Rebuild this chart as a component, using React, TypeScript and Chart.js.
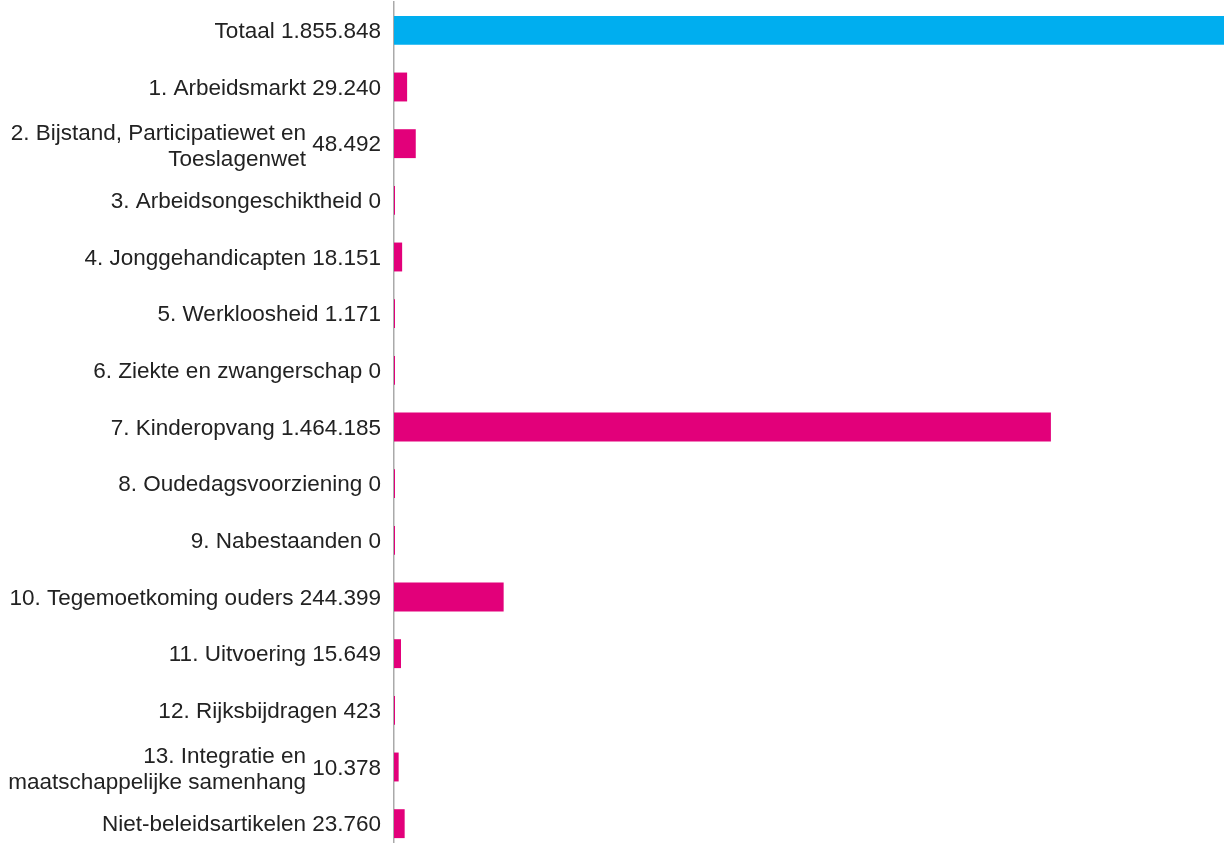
import React, { useEffect, useRef } from "react";
import { Chart, registerables } from "chart.js";

Chart.register(...registerables);

// Category names (multi-line names are split into lines)
const categories: string[][] = [
  ["Totaal"],
  ["1. Arbeidsmarkt"],
  ["2. Bijstand, Participatiewet en", "Toeslagenwet"],
  ["3. Arbeidsongeschiktheid"],
  ["4. Jonggehandicapten"],
  ["5. Werkloosheid"],
  ["6. Ziekte en zwangerschap"],
  ["7. Kinderopvang"],
  ["8. Oudedagsvoorziening"],
  ["9. Nabestaanden"],
  ["10. Tegemoetkoming ouders"],
  ["11. Uitvoering"],
  ["12. Rijksbijdragen"],
  ["13. Integratie en", "maatschappelijke samenhang"],
  ["Niet-beleidsartikelen"],
];

const values: number[] = [
  1855848, 29240, 48492, 0, 18151, 1171, 0, 1464185, 0, 0, 244399, 15649, 423,
  10378, 23760,
];

const TOTAL_COLOR = "#00AEEF";
const ARTICLE_COLOR = "#E2007A";
const TEXT_COLOR = "#222222";
const FONT_SIZE = 22.5;
const LINE_HEIGHT = 26;
const FONT_FAMILY = '"Liberation Sans", Arial, sans-serif';

function formatNL(v: number): string {
  return String(v).replace(/\B(?=(\d{3})+(?!\d))/g, ".");
}

const labelPlugin = {
  id: "twoColumnLabels",
  afterDraw(chart: any) {
    const ctx = chart.ctx as CanvasRenderingContext2D;
    const yScale = chart.scales.y;
    ctx.save();
    ctx.font = `${FONT_SIZE}px ${FONT_FAMILY}`;
    ctx.fillStyle = TEXT_COLOR;
    ctx.textAlign = "right";
    ctx.textBaseline = "middle";
    const xr = yScale.right - 13;
    categories.forEach((lines, i) => {
      const cy = yScale.getPixelForTick(i) + 1.5;
      const val = formatNL(values[i]);
      if (lines.length === 1) {
        ctx.fillText(lines[0] + " " + val, xr, cy);
      } else {
        ctx.fillText(val, xr, cy);
        const nx = xr - ctx.measureText(" " + val).width;
        const n = lines.length;
        lines.forEach((line, k) => {
          ctx.fillText(line, nx, cy + (k - (n - 1) / 2) * LINE_HEIGHT + 1.5);
        });
      }
    });
    ctx.restore();
  },
};

export default function App() {
  const canvasRef = useRef<HTMLCanvasElement | null>(null);

  useEffect(() => {
    document.body.style.overflow = "hidden";
    document.documentElement.style.overflow = "hidden";
    const canvas = canvasRef.current;
    if (!canvas) return;
    const chart = new Chart(canvas, {
      type: "bar",
      data: {
        labels: categories.map((c) => c.join(" ")),
        datasets: [
          {
            data: values,
            backgroundColor: values.map((_, i) =>
              i === 0 ? TOTAL_COLOR : ARTICLE_COLOR
            ),
            borderWidth: 0,
            barPercentage: 0.51,
            categoryPercentage: 1,
            minBarLength: 1,
          },
        ],
      },
      options: {
        indexAxis: "y",
        animation: false,
        responsive: true,
        maintainAspectRatio: false,
        layout: { padding: { top: 2, right: 0, bottom: 0, left: 0 } },
        plugins: {
          legend: { display: false },
          tooltip: { enabled: false },
        },
        scales: {
          x: {
            min: 0,
            max: 1850000,
            display: false,
          },
          y: {
            grid: { display: false },
            ticks: { display: false },
            border: { display: true, color: "#aaaaaa", width: 1.5 },
            afterFit: (scale: any) => {
              scale.width = 394;
            },
          },
        },
      },
      plugins: [labelPlugin],
    });
    return () => chart.destroy();
  }, []);

  return (
    <div
      style={{
        position: "fixed",
        left: 0,
        top: 0,
        width: 1224,
        height: 852,
        overflow: "hidden",
      }}
    >
      <canvas ref={canvasRef} />
    </div>
  );
}
